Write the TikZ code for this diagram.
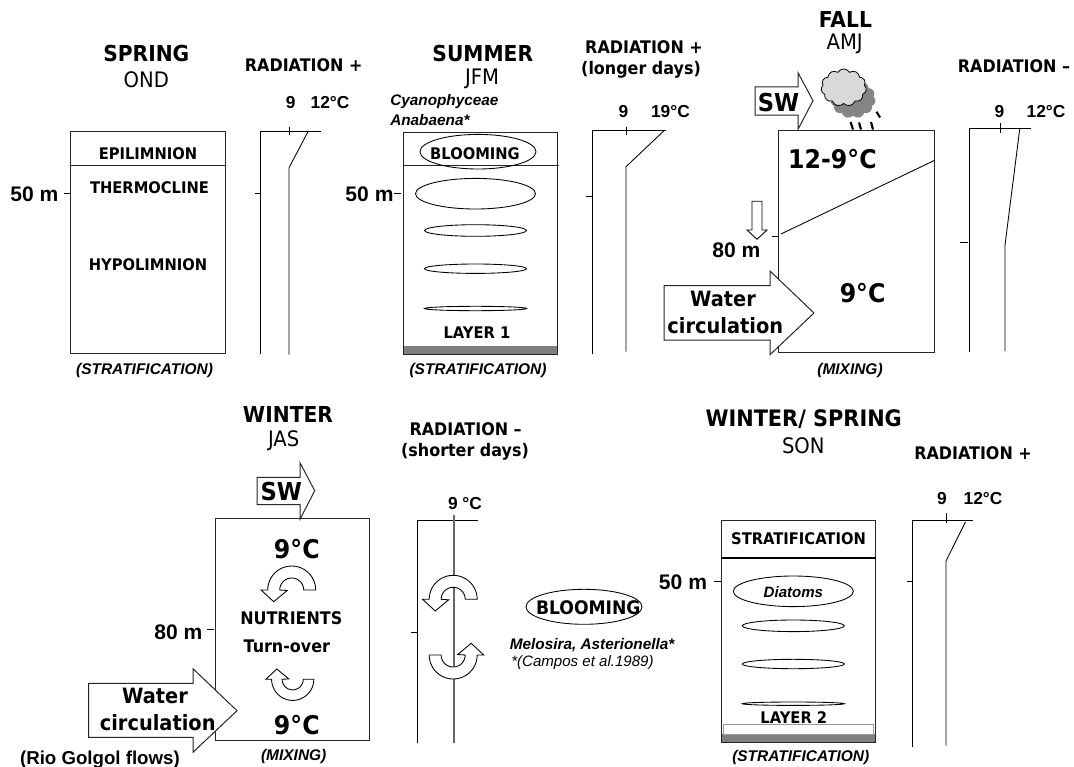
\documentclass[tikz,border=0pt]{standalone}
\usepackage{fontspec}
\usetikzlibrary{shapes.symbols}
\setmainfont{Liberation Sans}
\newfontfamily\tah{DejaVu Sans}[FakeStretch=0.92]
\newcommand{\blockarrow}[8]{% x0, xbase, xtip, ytip, shafttop, shaftbot, headtop, headbot
  \draw[box,fill=white] (#1,#5) -- (#2,#5) -- (#2,#7) -- (#3,#4) -- (#2,#8) -- (#2,#6) -- (#1,#6) -- cycle;}
\newcommand{\turnarrow}[4]{%
  \begin{scope}[shift={(#1,#2)},xscale=#3,yscale=#4]
  \draw[thin line,fill=white] plot[domain=0:180,samples=25] ({24*cos(\x)},{-24*sin(\x)})
    -- (-30.6,0) -- (-18,11.7) -- (-4.5,0.5) -- (-12,0)
    -- plot[domain=180:0,samples=25] ({12*cos(\x)},{-12*sin(\x)}) -- cycle;
  \end{scope}}
\tikzset{
  box/.style={draw=black!85,line width=0.75pt},
  thin line/.style={draw=black,line width=0.65pt},
  band/.style={fill=black!50,draw=none},
  season/.style={font=\tah\bfseries\fontsize{16.5}{18}\selectfont,inner sep=0pt},
  months/.style={font=\tah\fontsize{16}{18}\selectfont,inner sep=0pt},
  rad/.style={font=\tah\bfseries\fontsize{13}{15}\selectfont,inner sep=0pt},
  temp/.style={font=\bfseries\fontsize{13}{15}\selectfont,inner sep=0pt},
  depth/.style={font=\bfseries\fontsize{15.8}{18}\selectfont,inner sep=0pt},
  layer/.style={font=\tah\bfseries\fontsize{12}{14}\selectfont,inner sep=0pt},
  caption/.style={font=\bfseries\itshape\fontsize{11.6}{13}\selectfont,inner sep=0pt},
  species/.style={font=\bfseries\itshape\fontsize{11.5}{13}\selectfont,inner sep=0pt,anchor=west},
  big/.style={font=\tah\bfseries\fontsize{19.3}{21}\selectfont,inner sep=0pt},
  wat/.style={font=\tah\bfseries\fontsize{15.8}{18}\selectfont,inner sep=0pt},
  swt/.style={font=\tah\bfseries\fontsize{18.5}{21}\selectfont,inner sep=0pt},
}
\begin{document}
\begin{tikzpicture}[x=0.75pt,y=-0.75pt]
\useasboundingbox (0,0) rectangle (1074,767);
% --- SPRING
\draw[box] (70.6,131.7) rectangle (225,353.3);
\draw[box] (70.6,165.7) -- (225,165.7);
\draw[thin line] (64,193.7) -- (70.6,193.7);
\node[season] (s1) at (146.3,53.3) {SPRING};
\node[months] (m1) at (146.3,79.3) {OND};
\node[layer] (epi) at (148,153.3) {EPILIMNION};
\node[layer] (thermo) at (149.5,187.3) {THERMOCLINE};
\node[layer] (hypo) at (148,264.3) {HYPOLIMNION};
\node[depth] (d1) at (34.4,194.3) {50 m};
\node[caption] (c1) at (144.6,370) {(STRATIFICATION)};
% profile 1
\draw[thin line] (260.7,353.5) -- (260.7,131.7) -- (321,131.7);
\draw[thin line] (289,127) -- (289,135);
\draw[thin line] (308,131.7) -- (289,167.7) -- (289,354.5);
\draw[thin line] (255,193.7) -- (260.7,193.7);
\node[rad] (r1) at (303.7,65) {RADIATION +};
\node[temp] (t1a) at (290.6,102.7) {9};
\node[temp] (t1b) at (330,102.7) {12°C};
% --- SUMMER
\fill[band] (403,346) rectangle (557.6,354);
\draw[box] (403,132.3) rectangle (557.6,354);
\draw[box] (403,165.7) -- (559,165.7);
\draw[thin line] (393.6,193.7) -- (400.5,193.7);
\draw[thin line] (478,151.7) ellipse [x radius=58,y radius=17.3];
\draw[thin line] (475.5,193.7) ellipse [x radius=60,y radius=15.3];
\draw[thin line] (475.5,230.5) ellipse [x radius=51,y radius=5.8];
\draw[thin line] (475.5,268.7) ellipse [x radius=51,y radius=4.7];
\draw[thin line] (475.5,308.5) ellipse [x radius=51,y radius=2.2];
\node[season] (s2) at (482.8,53.3) {SUMMER};
\node[months] (m2) at (482,79.3) {JFM};
\node[species] (cy) at (390,102) {Cyanophyceae};
\node[species] (an) at (390,120) {Anabaena*};
\node[layer] (bl1) at (475,153.3) {BLOOMING};
\node[layer] (l1) at (477,332.3) {LAYER 1};
\node[depth] (d2) at (369.5,194.3) {50 m};
\node[caption] (c2) at (478,370) {(STRATIFICATION)};
% profile 2
\draw[thin line] (592,354.3) -- (592,130.7) -- (666,130.7);
\draw[thin line] (626,126.7) -- (626,135);
\draw[thin line] (664,130.7) -- (626,166.7) -- (626,351.7);
\draw[thin line] (585.6,196.7) -- (593,196.7);
\node[rad] (r2) at (644,47.3) {RADIATION +};
\node[rad] (r2b) at (641,70) {(longer days)};
\node[temp] (t2a) at (623.4,111.7) {9};
\node[temp] (t2b) at (670.4,111.7) {19°C};
% --- FALL
\draw[box] (778.5,130) rectangle (934,352);
\draw[thin line] (781,234) -- (934.6,160.3);
\draw[thin line] (771.6,236.3) -- (778.5,236.3);
\node[season] (s3) at (845.4,19.3) {FALL};
\node[months] (m3) at (844.7,44.3) {AMJ};
\node[big] (f1) at (832.4,159.3) {12-9°C};
\node[big] (f2) at (862.6,292.7) {9°C};
\node[depth] (d3) at (736.3,250) {80 m};
\draw[thin line,fill=white] (752,201.3) -- (762,201.3) -- (762,230) -- (767,230) -- (757,239.3) -- (747,230) -- (752,230) -- cycle;
\blockarrow{755}{798}{813}{100.7}{87}{115}{72.7}{129.3}
\node[swt] (sw1) at (778.5,102.3) {SW};
\blockarrow{664}{770}{814}{313}{285.7}{340}{271}{354.7}
\node[wat] (w1) at (723,299.3) {Water};
\node[wat] (w1b) at (725.3,325.7) {circulation};
\node[caption] (c3) at (850,370) {(MIXING)};
% cloud
\node[cloud,cloud puffs=11,cloud puff arc=120,aspect=1.2,fill=black!48,draw=none,minimum width=34pt,minimum height=29pt,inner sep=0pt] (cl2) at (853,99) {};
\node[cloud,cloud puffs=11,cloud puff arc=120,aspect=1.2,fill=black!15,draw=black,line width=0.6pt,minimum width=34pt,minimum height=28pt,inner sep=0pt] (cl1) at (843.7,87.6) {};
\draw[line width=1.6pt] (850.6,122) -- (853,129.5) (859,122.5) -- (861,129.5) (871,122) -- (873,129.5) (876.5,111.7) -- (880,117.5);
% profile 3
\draw[thin line] (969,351.7) -- (969,128.3) -- (1030.7,128.3);
\draw[thin line] (1000,123.3) -- (1000,132.7);
\draw[thin line] (1019.8,128.3) -- (1005,245) -- (1005,351.3);
\draw[thin line] (960,242) -- (968,242);
\node[rad] (r3) at (1014,65.7) {RADIATION –};
\node[temp] (t3a) at (999.5,111.7) {9};
\node[temp] (t3b) at (1046,111.7) {12°C};
% --- WINTER
\draw[box] (215,518.3) rectangle (369.5,740.7);
\draw[thin line] (207,629) -- (214,629);
\node[season] (s4) at (288,414.3) {WINTER};
\node[months] (m4) at (283.7,440.7) {JAS};
\blockarrow{257}{300}{314.7}{490.7}{477.3}{504.7}{462.7}{519.3}
\node[swt] (sw2) at (281.3,491.7) {SW};
\blockarrow{88.5}{193}{237}{710.7}{683.3}{737.3}{668.7}{752.3}
\node[wat] (w2) at (155,696) {Water};
\node[wat] (w2b) at (157.7,722.7) {circulation};
\node[big] (w9a) at (296.8,549.3) {9°C};
\node[big] (w9b) at (296.8,725) {9°C};
\node[rad] (nut) at (291.3,617.7) {NUTRIENTS};
\node[rad] (turn) at (286.8,646.7) {Turn-over};
\node[depth] (d4) at (178.4,632.7) {80 m};
\node[font=\bfseries\fontsize{14}{16}\selectfont,inner sep=0pt] (rio) at (99.9,759.3) {(Rio Golgol flows)};
\node[caption] (c4) at (293.7,756) {(MIXING)};
\turnarrow{291.7}{590}{1}{1}
\turnarrow{292.7}{679.3}{0.88}{-0.88}
% profile 4
\draw[thin line] (417.4,743.3) -- (417.4,520.3) -- (478,520.3);
\draw[draw=black!60,line width=1.2pt] (454,515) -- (454,742.7);
\draw[thin line] (411,632.3) -- (417,632.3);
\turnarrow{453.2}{599.3}{1}{1}
\turnarrow{453.2}{655}{-1}{-1}
\node[rad] (r4) at (465.6,429.3) {RADIATION –};
\node[rad] (r4b) at (465,452) {(shorter days)};
\node[temp] (t4) at (465,503.3) {9 °C};
% blooming
\draw[thin line] (584,606.8) ellipse [x radius=58,y radius=17.5];
\node[layer,font=\tah\bfseries\fontsize{14}{16}\selectfont] (bl2) at (588.3,607.3) {BLOOMING};
\node[species] (mel) at (509.6,645) {Melosira, Asterionella*};
\node[species,font=\itshape\fontsize{11.3}{13}\selectfont] (cam) at (511,662.7) {*(Campos et al.1989)};
% --- WINTER/SPRING
\fill[band] (721,734) rectangle (875.5,742);
\draw[draw=black!40,fill=white,line width=0.75pt] (723.3,724.7) rectangle (873.8,734);
\draw[box] (721,520.7) rectangle (875.5,742);
\draw[draw=black,line width=1.3pt] (721,557.7) -- (875.5,557.7);
\draw[thin line] (714,581) -- (721,581);
\draw[thin line] (793.3,591.3) ellipse [x radius=60,y radius=15.3];
\draw[thin line] (793.3,625.8) ellipse [x radius=51,y radius=5.8];
\draw[thin line] (793.3,664) ellipse [x radius=51,y radius=4.7];
\draw[thin line] (793.3,703.7) ellipse [x radius=51,y radius=1.7];
\node[season,font=\tah\bfseries\fontsize{17}{19}\selectfont] (s5) at (803.7,419.3) {WINTER/ SPRING};
\node[months] (m5) at (803.3,445.7) {SON};
\node[layer] (st) at (798.5,538.3) {STRATIFICATION};
\node[font=\bfseries\itshape\fontsize{11.3}{13}\selectfont,inner sep=0pt] (di) at (793.4,591.7) {Diatoms};
\node[layer] (l2) at (793.8,717.3) {LAYER 2};
\node[depth] (d5) at (683,582.7) {50 m};
\node[caption] (c5) at (800.7,757.7) {(STRATIFICATION)};
% profile 5
\draw[thin line] (912.5,746.7) -- (912.5,520.7) -- (973,520.7);
\draw[thin line] (946,513.3) -- (946,522.7);
\draw[thin line] (965.4,522) -- (946,561) -- (946,745.7);
\draw[thin line] (906.5,581) -- (912.5,581);
\node[rad] (r5) at (973,453.3) {RADIATION +};
\node[temp] (t5a) at (942,498.3) {9};
\node[temp] (t5b) at (983,498.3) {12°C};
\end{tikzpicture}
\end{document}
